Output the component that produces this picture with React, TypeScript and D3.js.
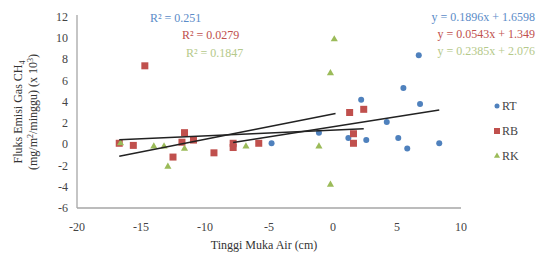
import React, { useEffect, useRef } from "react";
import * as d3 from "d3";

interface Pt {
  x: number;
  y: number;
}

// RT (blue circles)
const rtPoints: Pt[] = [
  { x: -7.8, y: -0.3 }, { x: -4.8, y: 0.1 }, { x: -1.1, y: 1.1 }, { x: 1.2, y: 0.6 },
  { x: 2.2, y: 4.2 }, { x: 2.6, y: 0.4 }, { x: 4.2, y: 2.1 }, { x: 5.1, y: 0.6 },
  { x: 5.5, y: 5.3 }, { x: 5.8, y: -0.4 }, { x: 6.7, y: 8.4 }, { x: 6.8, y: 3.8 },
  { x: 8.3, y: 0.1 },
];

// RB (red squares)
const rbPoints: Pt[] = [
  { x: -16.7, y: 0.1 }, { x: -15.6, y: -0.1 }, { x: -14.7, y: 7.4 }, { x: -12.5, y: -1.2 },
  { x: -11.8, y: 0.2 }, { x: -11.6, y: 1.1 }, { x: -10.9, y: 0.4 }, { x: -9.3, y: -0.8 },
  { x: -7.8, y: -0.3 }, { x: -7.8, y: 0.1 }, { x: -5.8, y: 0.1 }, { x: 1.3, y: 3.0 },
  { x: 2.4, y: 3.3 }, { x: 1.6, y: 1.0 }, { x: 1.6, y: 0.1 },
];

// RK (green triangles)
const rkPoints: Pt[] = [
  { x: -16.6, y: 0.1 }, { x: -14.0, y: -0.2 }, { x: -13.2, y: -0.2 }, { x: -12.9, y: -2.1 },
  { x: -11.6, y: -0.4 }, { x: -6.8, y: -0.2 }, { x: -1.1, y: -0.2 }, { x: -0.2, y: -3.8 },
  { x: -0.2, y: 6.7 }, { x: 0.1, y: 9.9 },
];

const seriesNames = ["RT", "RB", "RK"];
const seriesColors = ["#4f81bd", "#c0504d", "#9bbb59"];
const textColors = ["#5b8cc8", "#c0504d", "#b5c98a"];

// trend lines: [xStart, xEnd, slope, intercept]
const trendRT = [-7.8, 8.3, 0.1896, 1.6598];
const trendRB = [-16.7, 2.4, 0.0543, 1.349];
const trendRK = [-16.7, 0.2, 0.2385, 2.85];

const r2Labels = ["R² = 0.251", "R² = 0.0279", "R² = 0.1847"];
const eqLabels = ["y = 0.1896x + 1.6598", "y = 0.0543x + 1.349", "y = 0.2385x + 2.076"];

const xTicks = [-20, -15, -10, -5, 0, 5, 10];
const yTicks = [-6, -4, -2, 0, 2, 4, 6, 8, 10, 12];

const App: React.FC = () => {
  const svgRef = useRef<SVGSVGElement | null>(null);

  useEffect(() => {
    const width = 537, height = 255;
    const svg = d3.select(svgRef.current).attr("width", width).attr("height", height)
      .style("font-family", "'Liberation Serif', Tinos, 'Times New Roman', 'DejaVu Serif', serif");
    svg.selectAll("*").remove();

    const x = d3.scaleLinear().domain([-20, 10]).range([77, 461]);
    const y = d3.scaleLinear().domain([-6, 12]).range([208, 17]);

    // axes lines
    svg.append("line").attr("x1", 77).attr("x2", 77).attr("y1", 15).attr("y2", 208)
      .attr("stroke", "#a6a6a6").attr("stroke-width", 1.3);
    svg.append("line").attr("x1", 77).attr("x2", 461).attr("y1", 208).attr("y2", 208)
      .attr("stroke", "#a6a6a6").attr("stroke-width", 1.3);

    svg.append("g").selectAll("text").data(yTicks).join("text")
      .attr("x", 68).attr("y", d => y(d) + 4)
      .attr("text-anchor", "end").attr("font-size", 12)
      .attr("fill", "#444").text(d => d);

    svg.append("g").selectAll("text").data(xTicks).join("text")
      .attr("x", d => x(d)).attr("y", 231)
      .attr("text-anchor", "middle").attr("font-size", 12)
      .attr("fill", "#444").text(d => d);

    svg.append("text").attr("x", 264).attr("y", 249).attr("text-anchor", "middle")
      .attr("font-size", 12).attr("fill", "#333")
      .text("Tinggi Muka Air (cm)");

    const yt = svg.append("text").attr("transform", "translate(22,112) rotate(-90)")
      .attr("text-anchor", "middle").attr("font-size", 12).attr("fill", "#333");
    yt.append("tspan").text("Fluks Emisi Gas CH");
    yt.append("tspan").attr("font-size", 8).attr("dy", 3).text("4");
    const yt2 = svg.append("text").attr("transform", "translate(37,112) rotate(-90)")
      .attr("text-anchor", "middle").attr("font-size", 12).attr("fill", "#333");
    yt2.append("tspan").text("(mg/m");
    yt2.append("tspan").attr("font-size", 8).attr("dy", -4).text("2");
    yt2.append("tspan").attr("dy", 4).text("/minggu) (x 10");
    yt2.append("tspan").attr("font-size", 8).attr("dy", -4).text("3");
    yt2.append("tspan").attr("dy", 4).text(")");

    // points
    const g = svg.append("g");
    g.selectAll("circle").data(rtPoints).join("circle")
      .attr("cx", d => x(d.x)).attr("cy", d => y(d.y)).attr("r", 3)
      .attr("fill", seriesColors[0]);
    g.selectAll("rect").data(rbPoints).join("rect")
      .attr("x", d => x(d.x) - 3.5).attr("y", d => y(d.y) - 3.5)
      .attr("width", 7).attr("height", 7).attr("fill", seriesColors[1]);
    const tri = d3.symbol().type(d3.symbolTriangle).size(22);
    g.selectAll("path.rk").data(rkPoints).join("path").attr("class", "rk")
      .attr("transform", d => `translate(${x(d.x)},${y(d.y)})`)
      .attr("d", tri()!).attr("fill", seriesColors[2]);

    // trend lines
    [trendRT, trendRB, trendRK].forEach(([x0, x1, m, b]) => {
      svg.append("line")
        .attr("x1", x(x0)).attr("y1", y(m * x0 + b))
        .attr("x2", x(x1)).attr("y2", y(m * x1 + b))
        .attr("stroke", "#222").attr("stroke-width", 1.5);
    });

    // R² labels
    const r2Pos = [[150, 22], [182, 39], [186, 57]];
    r2Labels.forEach((t, i) => {
      svg.append("text").attr("x", r2Pos[i][0]).attr("y", r2Pos[i][1])
        .attr("font-size", 12).attr("fill", textColors[i]).text(t);
    });
    // equation labels
    const eqPos = [[535, 21], [535, 38], [535, 55]];
    eqLabels.forEach((t, i) => {
      svg.append("text").attr("x", eqPos[i][0]).attr("y", eqPos[i][1]).attr("text-anchor", "end")
        .attr("font-size", 12).attr("fill", textColors[i]).text(t);
    });

    // legend
    const leg = svg.append("g");
    seriesNames.forEach((name, i) => {
      const ly = 106 + i * 25;
      if (i === 0) leg.append("circle").attr("cx", 497).attr("cy", ly).attr("r", 2.5).attr("fill", seriesColors[0]);
      if (i === 1) leg.append("rect").attr("x", 494).attr("y", ly - 3).attr("width", 6).attr("height", 6).attr("fill", seriesColors[1]);
      if (i === 2) leg.append("path").attr("transform", `translate(497,${ly})`)
        .attr("d", d3.symbol().type(d3.symbolTriangle).size(16)()!).attr("fill", seriesColors[2]);
      leg.append("text").attr("x", 502).attr("y", ly + 4)
        .attr("font-size", 12).attr("fill", "#444").text(name);
    });
  }, []);

  return <svg ref={svgRef} style={{ position: "absolute", left: 0, top: 0 }}></svg>;
};

export default App;
